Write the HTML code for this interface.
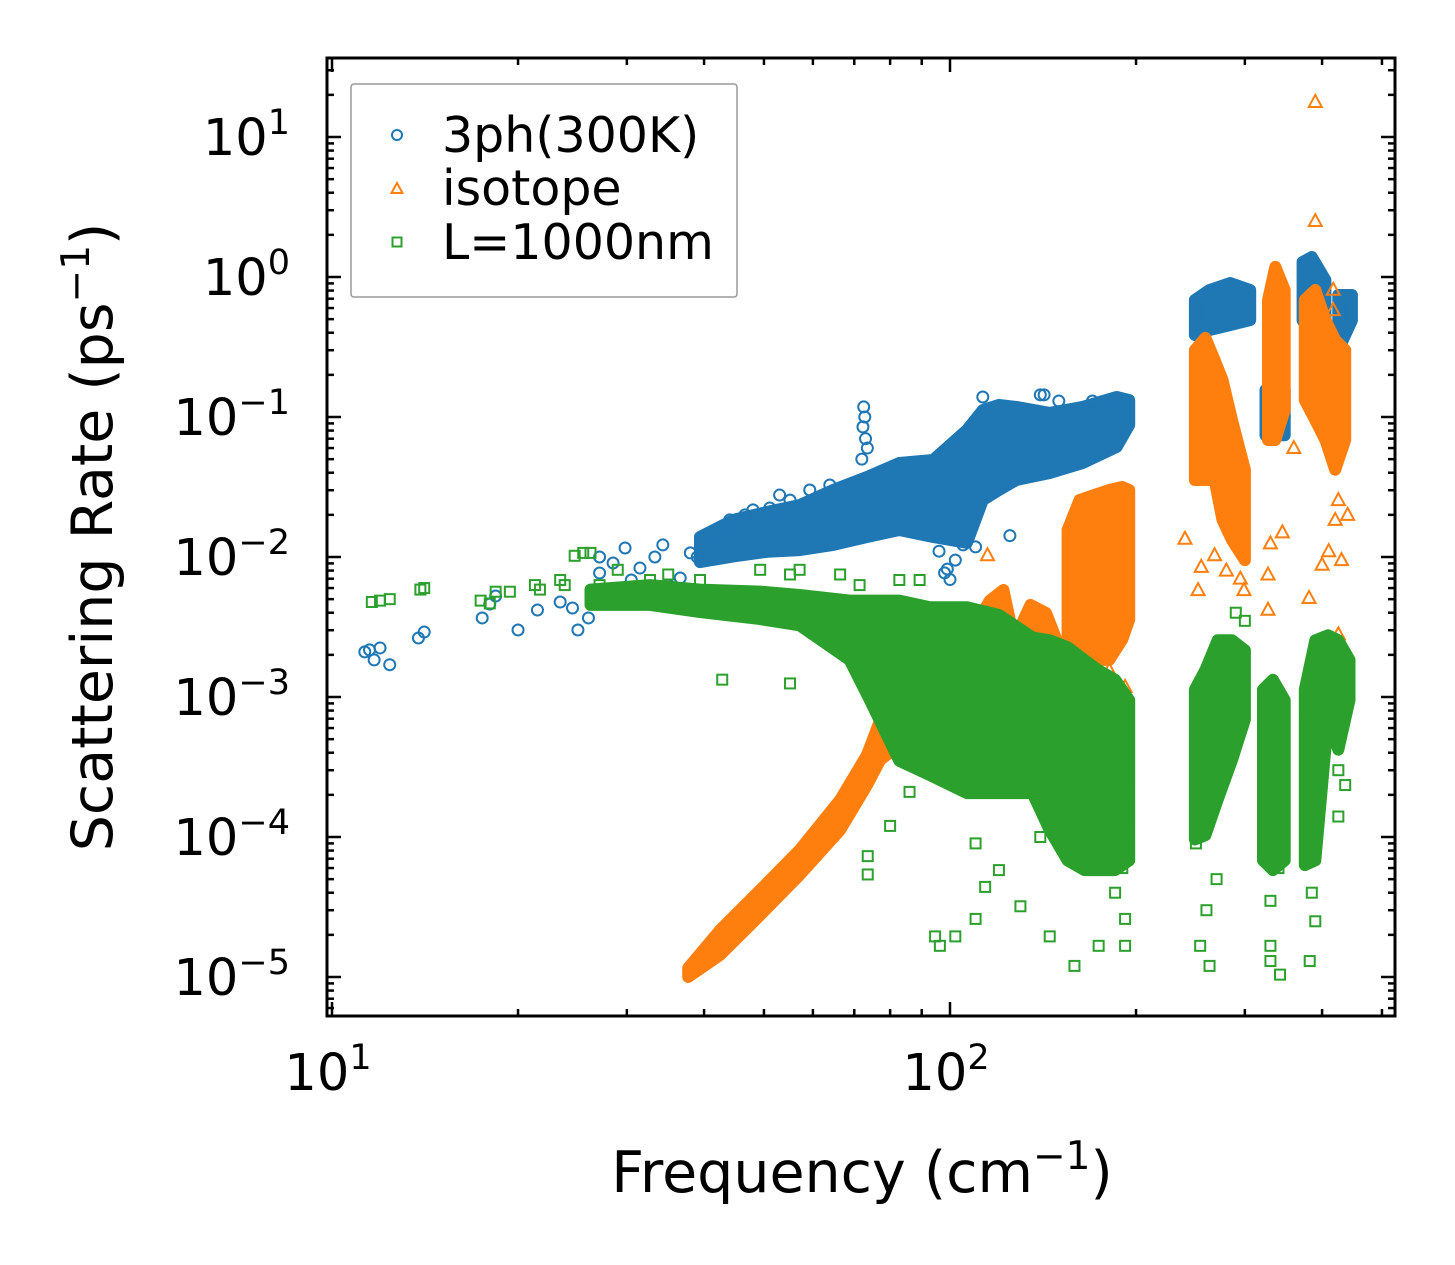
<!DOCTYPE html>
<html><head><meta charset="utf-8"><style>
html,body{margin:0;padding:0;background:#fff;}
svg{display:block;font-family:"DejaVu Sans","Liberation Sans",sans-serif;}
</style></head><body>
<svg id="chart" width="1455" height="1265" viewBox="0 0 1455 1265" xmlns="http://www.w3.org/2000/svg">
<rect x="0" y="0" width="1455" height="1265" fill="#fff"/>
<g id="marks"></g>
<g id="axes"></g>
<g id="legend">
  <rect x="351" y="84" width="386" height="213" fill="#fff" stroke="#999" stroke-width="1.5" rx="3"/>
  <g>
    <circle cx="397" cy="135" r="5" fill="none" stroke="#1f77b4" stroke-width="2"/>
    <text x="442" y="152" font-size="49">3ph(300K)</text>
  </g>
  <g>
    <polygon points="397,183 402.5,193 391.5,193" fill="none" stroke="#ff7f0e" stroke-width="2"/>
    <text x="442" y="205" font-size="49">isotope</text>
  </g>
  <g>
    <rect x="392.5" y="237.5" width="9" height="9" fill="none" stroke="#2ca02c" stroke-width="2"/>
    <text x="442" y="259" font-size="49">L=1000nm</text>
  </g>
</g>
<text x="862" y="1192" font-size="57" text-anchor="middle">Frequency (cm<tspan font-size="39" dy="-23">−1</tspan><tspan dy="23">)</tspan></text>
<text transform="translate(112,537) rotate(-90)" font-size="57" text-anchor="middle">Scattering Rate (ps<tspan font-size="39" dy="-23">−1</tspan><tspan dy="23">)</tspan></text>
</svg>
<script>
// ---- data ----
const xTickValues = [10, 100];
const xTickLabels = ["1", "2"];
const yTickValues = [10, 1, 0.1, 0.01, 0.001, 0.0001, 0.00001];
const yTickLabels = ["1", "0", "−1", "−2", "−3", "−4", "−5"];

// dense bands: [freq, low rate, high rate]
const blueBandMain = [[39.4,0.0092,0.0139],[44.6,0.0101,0.0184],[50.6,0.0109,0.021],[57.1,0.0112,0.0235],[64.7,0.0122,0.0301],[73.4,0.0139,0.0373],[82.8,0.0156,0.0469],[93.9,0.0139,0.0493],[106.5,0.0126,0.0808],[113,0.0255,0.112],[120,0.0301,0.122],[128,0.0355,0.118],[145,0.0398,0.107],[164,0.0469,0.118],[186,0.0611,0.139],[195,0.0877,0.132]];
const blueBandA = [[249,0.385,0.685],[263,0.418,0.808],[284,0.454,0.906],[306,0.493,0.808]];
const blueBandB = [[372,0.49,1.28],[385,0.385,1.39],[405,0.327,0.952]];
const blueBandC = [[425,0.301,0.744],[447,0.49,0.744]];
const blueBandD = [[324,0.074,0.156],[348,0.074,0.156]];

const orangeBandDiag = [[37.7,1.0e-5,1.16e-5],[42.5,1.44e-5,2.17e-5],[49.3,2.77e-5,4.18e-5],[57.1,5.35e-5,8.07e-5],[66.4,1.12e-4,1.84e-4],[73.4,2.35e-4,3.85e-4],[77.1,3.55e-4,6.85e-4],[82.8,4.54e-4,9.5e-4]];
const orangeBandMid = [[82.8,6.9e-4,9.5e-4],[104,6.9e-4,0.00216],[116,6.9e-4,0.00488],[122,6.9e-4,0.00581],[127,6.9e-4,0.00254],[135,6.9e-4,0.00455],[143,6.9e-4,0.00398],[151,6.9e-4,0.00216]];
const orangeBandTall = [[155,0.00184,0.0156],[162,0.00184,0.0255],[172,0.00184,0.0279],[181,0.00184,0.0301],[190,0.00258,0.0316],[195,0.00357,0.0301]];
const orangeBand1 = [[249,0.0355,0.301],[259,0.0355,0.367],[268,0.0355,0.255],[276,0.0184,0.184],[286,0.0132,0.095],[300,0.0095,0.042]];
const orangeBand2 = [[327,0.0685,0.685],[336,0.0685,1.18],[348,0.112,0.808]];
const orangeBand3 = [[375,0.132,0.685],[390,0.095,0.808],[405,0.0685,0.493],[420,0.042,0.355],[436,0.0685,0.301]];

const greenBandMain = [[26.2,0.00455,0.00585],[32.7,0.00455,0.0063],[39.4,0.00405,0.00585],[49.3,0.0036,0.00566],[57.1,0.00325,0.00535],[68.8,0.00184,0.00488],[74.2,0.00095,0.00488],[82.8,0.00035,0.00488],[92.8,0.000277,0.00438],[106.5,0.000206,0.00438],[120,0.000206,0.00386],[136,0.000206,0.00266],[145,0.000112,0.00254],[155,6.8e-5,0.00227],[165,5.8e-5,0.00184],[174,5.8e-5,0.00155],[185,5.8e-5,0.00133],[195,6.8e-5,0.00095]];
const greenBand1 = [[249,9.6e-5,0.00113],[259,1.03e-4,0.00156],[271,1.84e-4,0.00254],[286,3.55e-4,0.00254],[300,6.9e-4,0.00216]];
const greenBand2 = [[321,6.8e-5,0.00113],[333,5.8e-5,0.00133],[348,6.8e-5,0.00095]];
const greenBand3 = [[375,6.3e-5,0.00113],[390,6.8e-5,0.00254],[409,6.9e-4,0.00276],[425,4.2e-4,0.00254],[443,0.00095,0.00184]];

// individual scattered points
const blueFreqs = [11.5,11.96,11.7,12.4,11.3,13.8,14.1,17.5,18.0,18.4,20.0,21.5,23.4,24.5,25.0,26.0,27.1,27.1,28.5,29.8,30.5,31.5,32.0,33.3,34.3,35.0,36.6,36.6,38.0,39.0,40,42.2,44,46.6,48,51.1,53,55.1,59.3,63.9,72.5,72.8,72.3,73,73.5,72,100,99,98,110,125,105,140,113,170,150,190,142,96,102];
const blueRates = [0.00217,0.00224,0.00184,0.0017,0.0021,0.00264,0.00291,0.00367,0.00461,0.00526,0.00301,0.00418,0.00477,0.00432,0.00301,0.00367,0.00769,0.01,0.00906,0.0116,0.00685,0.00834,0.00581,0.01,0.0122,0.0063,0.00488,0.00708,0.0107,0.01,0.0122,0.0156,0.0184,0.02,0.0217,0.0224,0.0277,0.0255,0.0301,0.0327,0.118,0.1,0.085,0.07,0.06,0.05,0.0069,0.0082,0.0077,0.0118,0.0142,0.0122,0.144,0.139,0.13,0.13,0.125,0.144,0.011,0.0095];

const orangeFreqs = [390,390,417,417,252,268,299,327,327,381,425,420,425,400,115,192,181,240,255,280,295,330,345,360,410,430,440];
const orangeRates = [17.8,2.51,0.81,0.58,0.0058,0.0103,0.0058,0.0042,0.0075,0.0051,0.0028,0.0184,0.0255,0.0088,0.0103,0.00118,0.00155,0.0135,0.0085,0.008,0.007,0.0125,0.015,0.06,0.011,0.0095,0.02];

const greenFreqs = [11.6,11.96,12.4,13.9,14.1,17.4,18.0,18.4,19.4,21.3,21.7,23.4,23.8,24.7,25.5,26.2,27.1,29.0,30.3,32.7,35.0,39.4,49.3,55.1,57.1,66.4,71.4,82.8,89.3,100,42.8,55.1,73.6,73.6,94.6,96.3,102,110,114,120,130,145,159,174,192,192,254,263,330,330,382,342,425,436,425,80,86,110,140,160,185,190,260,270,330,340,385,390,250,300,290];
const greenRates = [0.00477,0.00488,0.005,0.00585,0.006,0.00488,0.00466,0.00565,0.00565,0.0063,0.00585,0.00685,0.0063,0.0102,0.0107,0.0107,0.0063,0.0081,0.00585,0.00685,0.0075,0.00685,0.0081,0.0075,0.0081,0.0075,0.0063,0.00685,0.00685,0.0042,0.00133,0.00125,7.3e-5,5.4e-5,1.95e-5,1.67e-5,1.95e-5,2.6e-5,4.4e-5,5.8e-5,3.2e-5,1.95e-5,1.2e-5,1.67e-5,1.67e-5,2.6e-5,1.67e-5,1.2e-5,1.67e-5,1.3e-5,1.3e-5,1.04e-5,1.4e-4,2.35e-4,3.0e-4,1.2e-4,2.1e-4,9e-5,1.0e-4,7e-5,4e-5,6e-5,3e-5,5e-5,3.5e-5,6e-5,4e-5,2.5e-5,9e-5,0.0035,0.004];

// ---- axis functions ----
const X0 = 332, XD = 618, Y0 = 277, YD = 140;
function xs(f){ return X0 + XD*(Math.log10(f)-1); }
function ys(r){ return Y0 - YD*Math.log10(r); }
const PL = 327, PR = 1395, PT = 58, PB = 1016;
const NS = "http://www.w3.org/2000/svg";
const marks = document.getElementById('marks');
const axes = document.getElementById('axes');

function mk(tag, attrs, parent){
  const e = document.createElementNS(NS, tag);
  for (const k in attrs) e.setAttribute(k, attrs[k]);
  parent.appendChild(e);
  return e;
}

const clip = mk('clipPath', {id:'plotclip'}, marks);
mk('rect', {x:PL, y:PT, width:PR-PL, height:PB-PT}, clip);
marks.setAttribute('clip-path', 'url(#plotclip)');

const COLORS = {blue:'#1f77b4', orange:'#ff7f0e', green:'#2ca02c'};

function band(data, color, name){
  const top = data.map(d => xs(d[0]).toFixed(1)+','+ys(d[2]).toFixed(1));
  const bot = data.slice().reverse().map(d => xs(d[0]).toFixed(1)+','+ys(d[1]).toFixed(1));
  const p = mk('polygon', {points: top.concat(bot).join(' '), fill: color, stroke: color, 'stroke-width': 12, 'stroke-linejoin':'round'}, marks);
  
  
}

function circle(f, r){
  const c = mk('circle', {cx: xs(f), cy: ys(r), r: 5.5, fill:'none', stroke: COLORS.blue, 'stroke-width': 2}, marks);
  
  
}
function tri(f, r){
  const x = xs(f), y = ys(r);
  const t = mk('polygon', {points: x+','+(y-7)+' '+(x+6.5)+','+(y+5)+' '+(x-6.5)+','+(y+5), fill:'none', stroke: COLORS.orange, 'stroke-width': 2}, marks);
  
  
}
function sq(f, r){
  const s = mk('rect', {x: xs(f)-5, y: ys(r)-5, width: 10, height: 10, fill:'none', stroke: COLORS.green, 'stroke-width': 2}, marks);
  
  
}

band(blueBandMain, COLORS.blue, 'band-3ph-main');
band(blueBandA, COLORS.blue, 'band-3ph-a');
band(blueBandB, COLORS.blue, 'band-3ph-b');
band(blueBandC, COLORS.blue, 'band-3ph-c');
band(blueBandD, COLORS.blue, 'band-3ph-d');
for (let i=0;i<blueFreqs.length;i++) circle(blueFreqs[i], blueRates[i]);
band(orangeBandDiag, COLORS.orange, 'band-isotope-diagonal');
band(orangeBandMid, COLORS.orange, 'band-isotope-mid');
band(orangeBandTall, COLORS.orange, 'band-isotope-tall');
band(orangeBand1, COLORS.orange, 'band-isotope-1');
band(orangeBand2, COLORS.orange, 'band-isotope-2');
band(orangeBand3, COLORS.orange, 'band-isotope-3');
for (let i=0;i<orangeFreqs.length;i++) tri(orangeFreqs[i], orangeRates[i]);
band(greenBandMain, COLORS.green, 'band-boundary-main');
band(greenBand1, COLORS.green, 'band-boundary-1');
band(greenBand2, COLORS.green, 'band-boundary-2');
band(greenBand3, COLORS.green, 'band-boundary-3');
for (let i=0;i<greenFreqs.length;i++) sq(greenFreqs[i], greenRates[i]);

// ---- axes ----
const frame = mk('rect', {x:PL, y:PT, width:PR-PL, height:PB-PT, fill:'none', stroke:'#000', 'stroke-width':3}, axes);



function tickLine(x1,y1,x2,y2){
  mk('line', {x1:x1,y1:y1,x2:x2,y2:y2, stroke:'#000', 'stroke-width':2.5}, axes);
}
for (let d=1; d<=2; d++){
  for (let m=1; m<=9; m++){
    const v = m*Math.pow(10,d);
    const x = xs(v);
    if (x < PL || x > PR) continue;
    const L = m===1 ? 14 : 7;
    tickLine(x, PB, x, PB-L);
    tickLine(x, PT, x, PT+L);
  }
}
for (let d=-6; d<=1; d++){
  for (let m=1; m<=9; m++){
    const v = m*Math.pow(10,d);
    const y = ys(v);
    if (y < PT || y > PB) continue;
    const L = m===1 ? 14 : 7;
    tickLine(PL, y, PL+L, y);
    tickLine(PR, y, PR-L, y);
  }
}
for (let i=0;i<xTickValues.length;i++){
  const t = mk('text', {x: xs(xTickValues[i])-4, y: 1090, 'font-size': 51, 'text-anchor':'middle'}, axes);
  
  
  t.textContent = '10';
  const s = document.createElementNS(NS, 'tspan');
  s.setAttribute('font-size', 35);
  s.setAttribute('dy', -21);
  s.textContent = xTickLabels[i];
  t.appendChild(s);
}
for (let i=0;i<yTickValues.length;i++){
  const t = mk('text', {x: 290, y: ys(yTickValues[i])+18, 'font-size': 51, 'text-anchor':'end'}, axes);
  
  
  t.textContent = '10';
  const s = document.createElementNS(NS, 'tspan');
  s.setAttribute('font-size', 35);
  s.setAttribute('dy', -21);
  s.textContent = yTickLabels[i];
  t.appendChild(s);
}
</script>
</body></html>
